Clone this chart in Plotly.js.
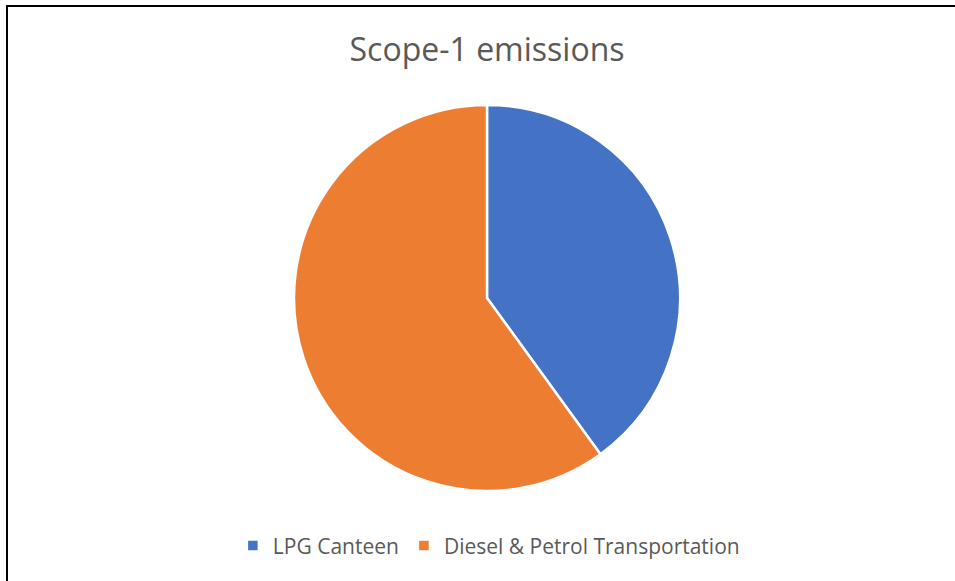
<!DOCTYPE html>
<html>
<head>
<meta charset="utf-8">
<script src="https://cdn.plot.ly/plotly-3.0.1.min.js"></script>
<style>
  html, body { margin: 0; padding: 0; background: #fff; }
  #wrap { position: relative; width: 955px; height: 581px; overflow: hidden; }
  #chart { width: 955px; height: 581px; }
  #frame { position: absolute; left: 6px; top: 5px; width: 2000px; height: 2000px;
           border-top: 2px solid #000; border-left: 2px solid #000; pointer-events: none; }
</style>
</head>
<body>
<div id="wrap">
  <div id="chart"></div>
  <div id="frame"></div>
</div>
<script>
const categories = ["LPG Canteen", "Diesel & Petrol Transportation"];
const values = [40, 60];
const colors = ["#4472C4", "#ED7D31"];
const chartTitle = "Scope-1 emissions";

const data = [{
  type: "pie",
  labels: categories,
  values: values,
  marker: { colors: colors, line: { color: "#ffffff", width: 2.5 } },
  sort: false,
  direction: "clockwise",
  rotation: 0,
  textinfo: "none",
  hoverinfo: "label+value+percent"
}];

const layout = {
  width: 955,
  height: 581,
  margin: { l: 19, r: 0, t: 105, b: 90 },
  paper_bgcolor: "#ffffff",
  font: { family: "Open Sans, Noto Sans, sans-serif", color: "#595959" },
  title: {
    text: chartTitle,
    font: { size: 32, color: "#595959", family: "Open Sans, sans-serif" },
    x: 0.51, xref: "container", xanchor: "center",
    y: 0.914, yref: "container", yanchor: "middle"
  },
  showlegend: true,
  legend: {
    orientation: "h",
    x: 0.502, xanchor: "center",
    y: -0.142, yanchor: "middle",
    font: { size: 21, color: "#595959" },
    itemwidth: 30
  }
};

Plotly.newPlot("chart", data, layout, { displayModeBar: false, staticPlot: true });
</script>
</body>
</html>
